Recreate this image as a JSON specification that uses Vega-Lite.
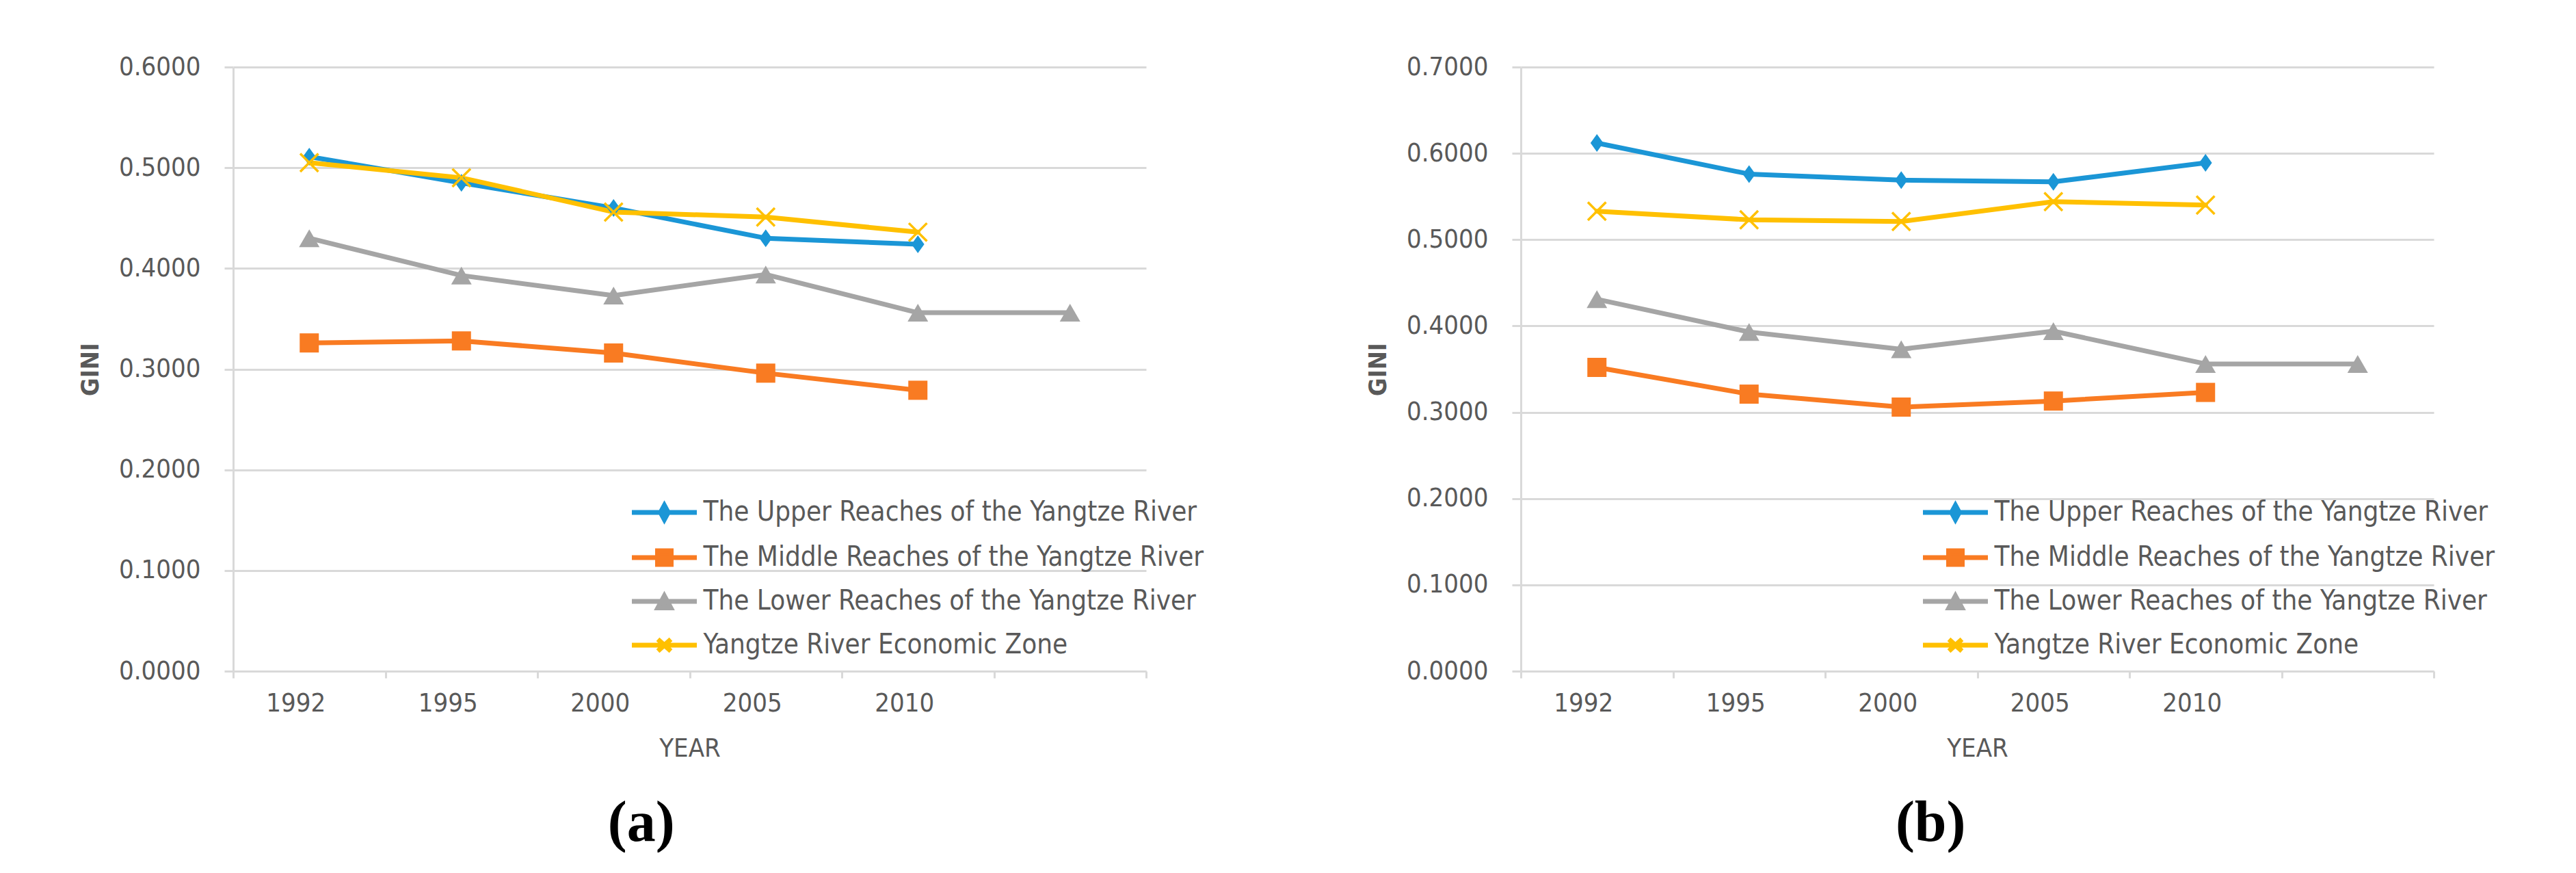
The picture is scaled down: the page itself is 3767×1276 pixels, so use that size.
{
  "$schema": "https://vega.github.io/schema/vega-lite/v6.json",
  "background": "white",
  "padding": {"left": 114, "top": 79, "right": 0, "bottom": 0},
  "spacing": 236,
  "resolve": {"scale": {"stroke": "independent", "fill": "independent", "shape": "independent"}},
  "datasets": {
    "a": [
      {"series": "The Upper Reaches of the Yangtze River", "year": "1992", "gini": 0.511},
      {"series": "The Upper Reaches of the Yangtze River", "year": "1995", "gini": 0.485},
      {"series": "The Upper Reaches of the Yangtze River", "year": "2000", "gini": 0.460},
      {"series": "The Upper Reaches of the Yangtze River", "year": "2005", "gini": 0.430},
      {"series": "The Upper Reaches of the Yangtze River", "year": "2010", "gini": 0.424},
      {"series": "The Middle Reaches of the Yangtze River", "year": "1992", "gini": 0.326},
      {"series": "The Middle Reaches of the Yangtze River", "year": "1995", "gini": 0.328},
      {"series": "The Middle Reaches of the Yangtze River", "year": "2000", "gini": 0.316},
      {"series": "The Middle Reaches of the Yangtze River", "year": "2005", "gini": 0.296},
      {"series": "The Middle Reaches of the Yangtze River", "year": "2010", "gini": 0.279},
      {"series": "The Lower Reaches of the Yangtze River", "year": "1992", "gini": 0.430},
      {"series": "The Lower Reaches of the Yangtze River", "year": "1995", "gini": 0.393},
      {"series": "The Lower Reaches of the Yangtze River", "year": "2000", "gini": 0.373},
      {"series": "The Lower Reaches of the Yangtze River", "year": "2005", "gini": 0.394},
      {"series": "The Lower Reaches of the Yangtze River", "year": "2010", "gini": 0.356},
      {"series": "The Lower Reaches of the Yangtze River", "year": "", "gini": 0.356},
      {"series": "Yangtze River Economic Zone", "year": "1992", "gini": 0.505},
      {"series": "Yangtze River Economic Zone", "year": "1995", "gini": 0.490},
      {"series": "Yangtze River Economic Zone", "year": "2000", "gini": 0.456},
      {"series": "Yangtze River Economic Zone", "year": "2005", "gini": 0.451},
      {"series": "Yangtze River Economic Zone", "year": "2010", "gini": 0.436}
    ],
    "b": [
      {"series": "The Upper Reaches of the Yangtze River", "year": "1992", "gini": 0.612},
      {"series": "The Upper Reaches of the Yangtze River", "year": "1995", "gini": 0.576},
      {"series": "The Upper Reaches of the Yangtze River", "year": "2000", "gini": 0.569},
      {"series": "The Upper Reaches of the Yangtze River", "year": "2005", "gini": 0.567},
      {"series": "The Upper Reaches of the Yangtze River", "year": "2010", "gini": 0.589},
      {"series": "The Middle Reaches of the Yangtze River", "year": "1992", "gini": 0.352},
      {"series": "The Middle Reaches of the Yangtze River", "year": "1995", "gini": 0.321},
      {"series": "The Middle Reaches of the Yangtze River", "year": "2000", "gini": 0.306},
      {"series": "The Middle Reaches of the Yangtze River", "year": "2005", "gini": 0.313},
      {"series": "The Middle Reaches of the Yangtze River", "year": "2010", "gini": 0.323},
      {"series": "The Lower Reaches of the Yangtze River", "year": "1992", "gini": 0.431},
      {"series": "The Lower Reaches of the Yangtze River", "year": "1995", "gini": 0.393},
      {"series": "The Lower Reaches of the Yangtze River", "year": "2000", "gini": 0.373},
      {"series": "The Lower Reaches of the Yangtze River", "year": "2005", "gini": 0.394},
      {"series": "The Lower Reaches of the Yangtze River", "year": "2010", "gini": 0.356},
      {"series": "The Lower Reaches of the Yangtze River", "year": "", "gini": 0.356},
      {"series": "Yangtze River Economic Zone", "year": "1992", "gini": 0.533},
      {"series": "Yangtze River Economic Zone", "year": "1995", "gini": 0.523},
      {"series": "Yangtze River Economic Zone", "year": "2000", "gini": 0.521},
      {"series": "Yangtze River Economic Zone", "year": "2005", "gini": 0.544},
      {"series": "Yangtze River Economic Zone", "year": "2010", "gini": 0.540}
    ]
  },
  "hconcat": [
    {
      "width": 1335,
      "height": 883,
      "data": {"name": "a"},
      "title": {"text": "(a)"},
      "encoding": {
        "x": {"field": "year", "type": "ordinal", "sort": null, "bandPosition": 0.5,
              "scale": {"type": "band", "domain": ["1992", "1995", "2000", "2005", "2010", ""], "paddingInner": 0, "paddingOuter": 0},
              "axis": {"title": "YEAR"}},
        "y": {"field": "gini", "type": "quantitative",
              "scale": {"domain": [0, 0.6], "nice": false, "zero": true},
              "axis": {"title": "GINI", "values": [0, 0.1, 0.2, 0.3, 0.4, 0.5, 0.6], "format": ".4f"}}
      },
      "layer": [
        {"mark": {"type": "line", "strokeWidth": 7, "strokeJoin": "round", "strokeCap": "round"},
         "encoding": {"stroke": {"field": "series", "type": "nominal", "title": null,
            "scale": {"domain": ["The Upper Reaches of the Yangtze River", "The Middle Reaches of the Yangtze River", "The Lower Reaches of the Yangtze River", "Yangtze River Economic Zone"], "range": ["#1B96D6", "#F97B22", "#A5A5A5", "#FFC000"]}}}},
        {"transform": [{"filter": {"field": "series", "equal": "The Upper Reaches of the Yangtze River"}}],
         "mark": {"type": "point", "shape": "M0,-1L0.72,0L0,1L-0.72,0Z", "size": 680, "filled": true, "opacity": 1},
         "encoding": {"fill": {"field": "series", "type": "nominal", "title": null,
            "scale": {"domain": ["The Upper Reaches of the Yangtze River", "The Middle Reaches of the Yangtze River", "The Lower Reaches of the Yangtze River", "Yangtze River Economic Zone"], "range": ["#1B96D6", "#F97B22", "#A5A5A5", "#FFC000"]}}}},
        {"transform": [{"filter": {"field": "series", "equal": "The Middle Reaches of the Yangtze River"}}],
         "mark": {"type": "point", "shape": "square", "size": 784, "filled": true, "opacity": 1},
         "encoding": {"fill": {"field": "series", "type": "nominal", "title": null}}},
        {"transform": [{"filter": {"field": "series", "equal": "The Lower Reaches of the Yangtze River"}}],
         "mark": {"type": "point", "shape": "triangle-up", "size": 900, "filled": true, "opacity": 1},
         "encoding": {"fill": {"field": "series", "type": "nominal", "title": null}}},
        {"transform": [{"filter": {"field": "series", "equal": "Yangtze River Economic Zone"}}],
         "mark": {"type": "point", "shape": "M-1,-1L1,1M-1,1L1,-1", "size": 700, "filled": false, "strokeWidth": 3.5, "opacity": 1},
         "encoding": {"stroke": {"field": "series", "type": "nominal", "title": null}}},
        {"transform": [{"filter": "false"}],
         "mark": {"type": "point", "filled": true, "opacity": 1},
         "encoding": {
           "fill": {"field": "series", "type": "nominal", "title": null},
           "stroke": {"field": "series", "type": "nominal", "title": null},
           "shape": {"field": "series", "type": "nominal", "title": null,
             "scale": {"domain": ["The Upper Reaches of the Yangtze River", "The Middle Reaches of the Yangtze River", "The Lower Reaches of the Yangtze River", "Yangtze River Economic Zone"],
                       "range": ["M-4.75,0L4.75,0M0,-1.05L0.57,0L0,1.05L-0.57,0Z", "M-4.75,0L4.75,0M-1,-1L1,-1L1,1L-1,1Z", "M-4.75,0L4.75,0M0,-0.81L0.95,0.95L-0.95,0.95Z", "M-4.75,0L4.75,0M-0.95,-0.86L0.95,0.86M-0.95,0.86L0.95,-0.86"]},
             "legend": {"orient": "none", "legendX": 573, "legendY": 631}}
         }}
      ]
    },
    {
      "width": 1335,
      "height": 883,
      "data": {"name": "b"},
      "title": {"text": "(b)"},
      "encoding": {
        "x": {"field": "year", "type": "ordinal", "sort": null, "bandPosition": 0.5,
              "scale": {"type": "band", "domain": ["1992", "1995", "2000", "2005", "2010", ""], "paddingInner": 0, "paddingOuter": 0},
              "axis": {"title": "YEAR"}},
        "y": {"field": "gini", "type": "quantitative",
              "scale": {"domain": [0, 0.7], "nice": false, "zero": true},
              "axis": {"title": "GINI", "values": [0, 0.1, 0.2, 0.3, 0.4, 0.5, 0.6, 0.7], "format": ".4f"}}
      },
      "layer": [
        {"mark": {"type": "line", "strokeWidth": 7, "strokeJoin": "round", "strokeCap": "round"},
         "encoding": {"stroke": {"field": "series", "type": "nominal", "title": null,
            "scale": {"domain": ["The Upper Reaches of the Yangtze River", "The Middle Reaches of the Yangtze River", "The Lower Reaches of the Yangtze River", "Yangtze River Economic Zone"], "range": ["#1B96D6", "#F97B22", "#A5A5A5", "#FFC000"]}}}},
        {"transform": [{"filter": {"field": "series", "equal": "The Upper Reaches of the Yangtze River"}}],
         "mark": {"type": "point", "shape": "M0,-1L0.72,0L0,1L-0.72,0Z", "size": 680, "filled": true, "opacity": 1},
         "encoding": {"fill": {"field": "series", "type": "nominal", "title": null,
            "scale": {"domain": ["The Upper Reaches of the Yangtze River", "The Middle Reaches of the Yangtze River", "The Lower Reaches of the Yangtze River", "Yangtze River Economic Zone"], "range": ["#1B96D6", "#F97B22", "#A5A5A5", "#FFC000"]}}}},
        {"transform": [{"filter": {"field": "series", "equal": "The Middle Reaches of the Yangtze River"}}],
         "mark": {"type": "point", "shape": "square", "size": 784, "filled": true, "opacity": 1},
         "encoding": {"fill": {"field": "series", "type": "nominal", "title": null}}},
        {"transform": [{"filter": {"field": "series", "equal": "The Lower Reaches of the Yangtze River"}}],
         "mark": {"type": "point", "shape": "triangle-up", "size": 900, "filled": true, "opacity": 1},
         "encoding": {"fill": {"field": "series", "type": "nominal", "title": null}}},
        {"transform": [{"filter": {"field": "series", "equal": "Yangtze River Economic Zone"}}],
         "mark": {"type": "point", "shape": "M-1,-1L1,1M-1,1L1,-1", "size": 700, "filled": false, "strokeWidth": 3.5, "opacity": 1},
         "encoding": {"stroke": {"field": "series", "type": "nominal", "title": null}}},
        {"transform": [{"filter": "false"}],
         "mark": {"type": "point", "filled": true, "opacity": 1},
         "encoding": {
           "fill": {"field": "series", "type": "nominal", "title": null},
           "stroke": {"field": "series", "type": "nominal", "title": null},
           "shape": {"field": "series", "type": "nominal", "title": null,
             "scale": {"domain": ["The Upper Reaches of the Yangtze River", "The Middle Reaches of the Yangtze River", "The Lower Reaches of the Yangtze River", "Yangtze River Economic Zone"],
                       "range": ["M-4.75,0L4.75,0M0,-1.05L0.57,0L0,1.05L-0.57,0Z", "M-4.75,0L4.75,0M-1,-1L1,-1L1,1L-1,1Z", "M-4.75,0L4.75,0M0,-0.81L0.95,0.95L-0.95,0.95Z", "M-4.75,0L4.75,0M-0.95,-0.86L0.95,0.86M-0.95,0.86L0.95,-0.86"]},
             "legend": {"orient": "none", "legendX": 578, "legendY": 631}}
         }}
      ]
    }
  ],
  "config": {
    "font": "Liberation Sans Narrow, DejaVu Sans Condensed, sans-serif",
    "view": {"stroke": null},
    "axis": {
      "labelFont": "Liberation Sans Narrow, DejaVu Sans Condensed, sans-serif",
      "labelFontSize": 38,
      "labelColor": "#595959",
      "titleFont": "Liberation Sans Narrow, DejaVu Sans Condensed, sans-serif",
      "titleColor": "#595959",
      "domainColor": "#D9D9D9",
      "domainWidth": 3,
      "tickColor": "#D9D9D9",
      "tickWidth": 3,
      "gridColor": "#D9D9D9",
      "gridWidth": 3
    },
    "axisX": {
      "labelAngle": 0,
      "tickBand": "extent",
      "tickSize": 10,
      "labelPadding": 18,
      "labelOffset": -20,
      "grid": false,
      "titleFontSize": 38,
      "titleFontWeight": "normal",
      "titlePadding": 28
    },
    "axisY": {
      "tickSize": 13,
      "labelPadding": 35,
      "grid": true,
      "titleFontSize": 36,
      "titleFontWeight": "bold",
      "titlePadding": 22
    },
    "legend": {
      "labelFont": "Liberation Sans Narrow, DejaVu Sans Condensed, sans-serif",
      "labelFontSize": 40,
      "labelColor": "#595959",
      "labelLimit": 1200,
      "labelOffset": 37,
      "symbolSize": 400,
      "symbolStrokeWidth": 7,
      "symbolOffset": 37.5,
      "rowPadding": 17,
      "padding": 0
    },
    "title": {
      "font": "Liberation Serif, DejaVu Serif, serif",
      "fontSize": 84,
      "fontWeight": "bold",
      "color": "#000000",
      "orient": "bottom",
      "anchor": "middle",
      "frame": "bounds",
      "offset": 50
    }
  }
}
